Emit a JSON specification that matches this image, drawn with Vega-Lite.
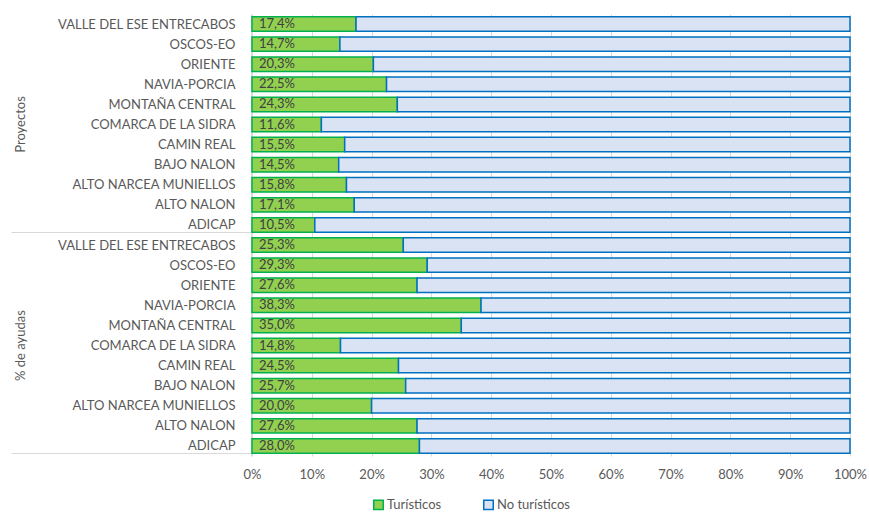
{
  "$schema": "https://vega.github.io/schema/vega-lite/v6.json",
  "padding": {"left": 10, "top": 8, "right": 20, "bottom": 0},
  "config": {
    "locale": {"number": {"decimal": ",", "thousands": ".", "grouping": [3], "currency": ["", " €"]}},
    "view": {"stroke": null},
    "font": "Lato",
    "background": "#ffffff"
  },
  "data": {"values": [
    {"grupo": "Proyectos", "cat": "VALLE DEL ESE ENTRECABOS", "tipo": "Turísticos", "valor": 0.174},
    {"grupo": "Proyectos", "cat": "VALLE DEL ESE ENTRECABOS", "tipo": "No turísticos", "valor": 0.826},
    {"grupo": "Proyectos", "cat": "OSCOS-EO", "tipo": "Turísticos", "valor": 0.147},
    {"grupo": "Proyectos", "cat": "OSCOS-EO", "tipo": "No turísticos", "valor": 0.853},
    {"grupo": "Proyectos", "cat": "ORIENTE", "tipo": "Turísticos", "valor": 0.203},
    {"grupo": "Proyectos", "cat": "ORIENTE", "tipo": "No turísticos", "valor": 0.797},
    {"grupo": "Proyectos", "cat": "NAVIA-PORCIA", "tipo": "Turísticos", "valor": 0.225},
    {"grupo": "Proyectos", "cat": "NAVIA-PORCIA", "tipo": "No turísticos", "valor": 0.775},
    {"grupo": "Proyectos", "cat": "MONTAÑA CENTRAL", "tipo": "Turísticos", "valor": 0.243},
    {"grupo": "Proyectos", "cat": "MONTAÑA CENTRAL", "tipo": "No turísticos", "valor": 0.757},
    {"grupo": "Proyectos", "cat": "COMARCA DE LA SIDRA", "tipo": "Turísticos", "valor": 0.116},
    {"grupo": "Proyectos", "cat": "COMARCA DE LA SIDRA", "tipo": "No turísticos", "valor": 0.884},
    {"grupo": "Proyectos", "cat": "CAMIN REAL", "tipo": "Turísticos", "valor": 0.155},
    {"grupo": "Proyectos", "cat": "CAMIN REAL", "tipo": "No turísticos", "valor": 0.845},
    {"grupo": "Proyectos", "cat": "BAJO NALON", "tipo": "Turísticos", "valor": 0.145},
    {"grupo": "Proyectos", "cat": "BAJO NALON", "tipo": "No turísticos", "valor": 0.855},
    {"grupo": "Proyectos", "cat": "ALTO NARCEA MUNIELLOS", "tipo": "Turísticos", "valor": 0.158},
    {"grupo": "Proyectos", "cat": "ALTO NARCEA MUNIELLOS", "tipo": "No turísticos", "valor": 0.842},
    {"grupo": "Proyectos", "cat": "ALTO NALON", "tipo": "Turísticos", "valor": 0.171},
    {"grupo": "Proyectos", "cat": "ALTO NALON", "tipo": "No turísticos", "valor": 0.829},
    {"grupo": "Proyectos", "cat": "ADICAP", "tipo": "Turísticos", "valor": 0.105},
    {"grupo": "Proyectos", "cat": "ADICAP", "tipo": "No turísticos", "valor": 0.895},
    {"grupo": "% de ayudas", "cat": "VALLE DEL ESE ENTRECABOS", "tipo": "Turísticos", "valor": 0.253},
    {"grupo": "% de ayudas", "cat": "VALLE DEL ESE ENTRECABOS", "tipo": "No turísticos", "valor": 0.747},
    {"grupo": "% de ayudas", "cat": "OSCOS-EO", "tipo": "Turísticos", "valor": 0.293},
    {"grupo": "% de ayudas", "cat": "OSCOS-EO", "tipo": "No turísticos", "valor": 0.707},
    {"grupo": "% de ayudas", "cat": "ORIENTE", "tipo": "Turísticos", "valor": 0.276},
    {"grupo": "% de ayudas", "cat": "ORIENTE", "tipo": "No turísticos", "valor": 0.724},
    {"grupo": "% de ayudas", "cat": "NAVIA-PORCIA", "tipo": "Turísticos", "valor": 0.383},
    {"grupo": "% de ayudas", "cat": "NAVIA-PORCIA", "tipo": "No turísticos", "valor": 0.617},
    {"grupo": "% de ayudas", "cat": "MONTAÑA CENTRAL", "tipo": "Turísticos", "valor": 0.350},
    {"grupo": "% de ayudas", "cat": "MONTAÑA CENTRAL", "tipo": "No turísticos", "valor": 0.650},
    {"grupo": "% de ayudas", "cat": "COMARCA DE LA SIDRA", "tipo": "Turísticos", "valor": 0.148},
    {"grupo": "% de ayudas", "cat": "COMARCA DE LA SIDRA", "tipo": "No turísticos", "valor": 0.852},
    {"grupo": "% de ayudas", "cat": "CAMIN REAL", "tipo": "Turísticos", "valor": 0.245},
    {"grupo": "% de ayudas", "cat": "CAMIN REAL", "tipo": "No turísticos", "valor": 0.755},
    {"grupo": "% de ayudas", "cat": "BAJO NALON", "tipo": "Turísticos", "valor": 0.257},
    {"grupo": "% de ayudas", "cat": "BAJO NALON", "tipo": "No turísticos", "valor": 0.743},
    {"grupo": "% de ayudas", "cat": "ALTO NARCEA MUNIELLOS", "tipo": "Turísticos", "valor": 0.200},
    {"grupo": "% de ayudas", "cat": "ALTO NARCEA MUNIELLOS", "tipo": "No turísticos", "valor": 0.800},
    {"grupo": "% de ayudas", "cat": "ALTO NALON", "tipo": "Turísticos", "valor": 0.276},
    {"grupo": "% de ayudas", "cat": "ALTO NALON", "tipo": "No turísticos", "valor": 0.724},
    {"grupo": "% de ayudas", "cat": "ADICAP", "tipo": "Turísticos", "valor": 0.280},
    {"grupo": "% de ayudas", "cat": "ADICAP", "tipo": "No turísticos", "valor": 0.720}
  ]},
  "facet": {
    "row": {
      "field": "grupo", "type": "nominal", "sort": ["Proyectos", "% de ayudas"],
      "header": {"title": null, "labelOrient": "left", "labelAngle": -90, "labelFontSize": 13, "labelColor": "#595959", "labelPadding": -23, "labelFont": "Lato"}
    }
  },
  "spacing": 0,
  "resolve": {"scale": {"x": "shared", "y": "shared"}},
  "spec": {
    "width": 598,
    "height": 221,
    "encoding": {
      "y": {
        "field": "cat", "type": "nominal",
        "sort": ["VALLE DEL ESE ENTRECABOS", "OSCOS-EO", "ORIENTE", "NAVIA-PORCIA", "MONTAÑA CENTRAL", "COMARCA DE LA SIDRA", "CAMIN REAL", "BAJO NALON", "ALTO NARCEA MUNIELLOS", "ALTO NALON", "ADICAP"],
        "scale": {"paddingInner": 0.28, "paddingOuter": 0.14},
        "axis": {
          "title": null, "labelFontSize": 13, "labelColor": "#595959", "labelFont": "Lato",
          "domain": true, "domainColor": "#D9D9D9",
          "ticks": true, "tickBand": "extent", "tickSize": 240,
          "tickColor": {"condition": {"test": "datum.value === 'ADICAP'", "value": "#D9D9D9"}, "value": "transparent"},
          "labelPadding": -224
        }
      }
    },
    "layer": [
      {
        "mark": {"type": "bar", "strokeWidth": 1.5},
        "encoding": {
          "x": {
            "field": "valor", "type": "quantitative", "stack": "zero",
            "scale": {"domain": [0, 1], "nice": false},
            "axis": {"title": null, "format": ".0%", "values": [0, 0.1, 0.2, 0.3, 0.4, 0.5, 0.6, 0.7, 0.8, 0.9, 1],
                     "grid": true, "gridColor": "#D9D9D9", "domain": false, "ticks": false, "labelFlush": false,
                     "labelPadding": 12, "labelFontSize": 13, "labelColor": "#595959", "labelFont": "Lato"}
          },
          "fill": {
            "field": "tipo", "type": "nominal",
            "scale": {"domain": ["Turísticos", "No turísticos"], "range": ["#92D050", "#DAE3F3"]},
            "legend": {"title": null, "orient": "none", "legendX": 120, "legendY": 484, "direction": "horizontal", "labelFontSize": 13, "labelColor": "#595959", "labelFont": "Lato", "symbolType": "square", "symbolSize": 90, "symbolStrokeWidth": 1.5, "columnPadding": 38, "labelOffset": 2}
          },
          "stroke": {
            "field": "tipo", "type": "nominal",
            "scale": {"domain": ["Turísticos", "No turísticos"], "range": ["#00B050", "#0070C0"]},
            "legend": {"title": null, "orient": "none", "legendX": 120, "legendY": 484, "direction": "horizontal", "labelFontSize": 13, "labelColor": "#595959", "labelFont": "Lato", "symbolType": "square", "symbolSize": 90, "symbolStrokeWidth": 1.5, "columnPadding": 38, "labelOffset": 2}
          },
          "order": {"field": "tipo", "sort": "descending"}
        }
      },
      {
        "transform": [{"filter": "datum.tipo === 'Turísticos'"}],
        "mark": {"type": "text", "align": "left", "baseline": "middle", "dx": 7, "fontSize": 13, "color": "#404040", "font": "Lato"},
        "encoding": {
          "x": {"datum": 0, "type": "quantitative"},
          "text": {"field": "valor", "type": "quantitative", "format": ".1%"}
        }
      }
    ]
  }
}
